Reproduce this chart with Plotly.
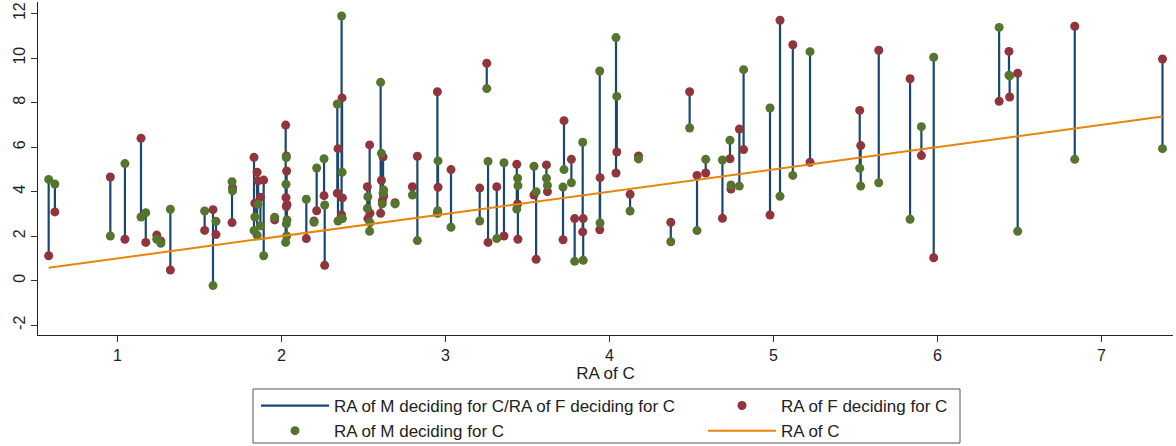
import plotly.graph_objects as go

# RA of C (x), RA of F deciding for C, RA of M deciding for C
ra_c = [0.581, 0.619, 0.957, 1.046, 1.144, 1.173, 1.240, 1.265, 1.323, 1.532,
        1.583, 1.601, 1.699, 1.702, 1.833, 1.838, 1.852, 1.858, 1.872, 1.892,
        1.959, 2.026, 2.030, 2.032, 2.028, 2.034, 2.030, 2.152, 2.199, 2.215,
        2.260, 2.264, 2.341, 2.345, 2.367, 2.370, 2.372, 2.524, 2.527, 2.538,
        2.540, 2.605, 2.610, 2.615, 2.620, 2.624, 2.693, 2.799, 2.829, 2.951,
        2.955, 2.953, 3.034, 3.209, 3.252, 3.260, 3.313, 3.357, 3.435, 3.440,
        3.442, 3.540, 3.553, 3.616, 3.622, 3.717, 3.723, 3.768, 3.788, 3.837,
        3.840, 3.941, 3.943, 4.040, 4.045, 4.126, 4.177, 4.374, 4.489, 4.534,
        4.587, 4.689, 4.735, 4.741, 4.792, 4.818, 4.979, 5.040, 5.118, 5.223,
        5.526, 5.532, 5.642, 5.833, 5.902, 5.977, 6.376, 6.436, 6.440, 6.489,
        6.837, 7.372]
ra_f = [1.12, 3.09, 4.66, 1.86, 6.40, 1.72, 2.05, 1.78, 0.48, 2.26,
        3.19, 2.07, 2.61, 4.18, 5.54, 3.48, 4.87, 4.49, 3.75, 4.52,
        2.73, 6.99, 5.60, 4.93, 3.73, 3.43, 3.33, 1.89, 2.68, 3.14,
        3.82, 0.69, 3.93, 5.93, 2.95, 8.21, 3.72, 4.22, 2.79, 6.10,
        3.03, 3.03, 4.51, 3.58, 5.56, 3.80, 3.50, 4.22, 5.59, 8.49,
        4.20, 3.05, 4.99, 4.16, 9.77, 1.72, 4.22, 2.01, 5.23, 3.45,
        1.86, 3.85, 0.96, 5.20, 4.00, 1.84, 7.19, 5.45, 2.79, 2.19,
        2.79, 2.29, 4.63, 4.84, 5.78, 3.88, 5.60, 2.62, 8.49, 4.73,
        4.84, 2.80, 5.48, 4.12, 6.81, 5.89, 2.95, 11.70, 10.60, 5.32,
        7.65, 6.07, 10.35, 9.07, 5.62, 1.03, 8.06, 10.30, 8.25, 9.32,
        11.43, 9.96]
ra_m = [4.55, 4.34, 2.01, 5.26, 2.86, 3.05, 1.86, 1.68, 3.21, 3.13,
        -0.22, 2.67, 4.45, 4.04, 2.25, 2.86, 2.04, 3.43, 2.46, 1.12,
        2.85, 1.72, 5.53, 2.01, 4.33, 2.73, 2.55, 3.66, 2.62, 5.06,
        5.48, 3.40, 7.94, 2.68, 11.89, 4.87, 2.79, 3.25, 3.77, 2.22,
        2.61, 8.91, 5.72, 3.45, 3.93, 4.07, 3.45, 3.85, 1.80, 3.03,
        5.38, 3.14, 2.40, 2.68, 8.63, 5.36, 1.89, 5.30, 3.22, 4.60,
        4.27, 5.14, 4.00, 4.60, 4.28, 4.21, 4.99, 4.40, 0.87, 6.22,
        0.92, 9.42, 2.59, 10.92, 8.28, 3.13, 5.47, 1.75, 6.86, 2.25,
        5.45, 5.42, 6.31, 4.30, 4.25, 9.48, 7.76, 3.79, 4.73, 10.29,
        5.05, 4.25, 4.40, 2.76, 6.92, 10.04, 11.38, 9.23, 9.20, 2.22,
        5.45, 5.93]

x_ticks = [1, 2, 3, 4, 5, 6, 7]
y_ticks = [-2, 0, 2, 4, 6, 8, 10, 12]
y_tick_text = ["-2", "0", "2", "4", "6", "8", "10", "12"]

NAVY = "#1a476f"
RED = "#90353b"
GREEN = "#55752f"
ORANGE = "#e8850c"
FONT = "Liberation Sans, Arial, sans-serif"

spike_x, spike_y = [], []
for c, f, m in zip(ra_c, ra_f, ra_m):
    spike_x += [c, c, None]
    spike_y += [m, f, None]

order = sorted(range(len(ra_c)), key=lambda i: ra_c[i])
line_x = [ra_c[i] for i in order]

fig = go.Figure()
fig.add_trace(go.Scatter(x=spike_x, y=spike_y, mode="lines",
                         line=dict(color=NAVY, width=2.2),
                         name="RA of M deciding for C/RA of F deciding for C",
                         legend="legend"))
fig.add_trace(go.Scatter(x=ra_c, y=ra_f, mode="markers",
                         marker=dict(color=RED, size=9, line=dict(width=0)),
                         name="RA of F deciding for C", legend="legend2"))
fig.add_trace(go.Scatter(x=ra_c, y=ra_m, mode="markers",
                         marker=dict(color=GREEN, size=9, line=dict(width=0)),
                         name="RA of M deciding for C", legend="legend"))
fig.add_trace(go.Scatter(x=line_x, y=line_x, mode="lines",
                         line=dict(color=ORANGE, width=2),
                         name="RA of C", legend="legend2"))

W, H = 1176, 446
ml, mr, mt, mb = 38, 3, 2, 111
pw, ph = W - ml - mr, H - mt - mb


def px_x(p):
    return (p - ml) / pw


def px_y(p):
    return (H - mb - p) / ph


legend_common = dict(orientation="v", yanchor="top", xanchor="left",
                     xref="container", yref="container",
                     font=dict(family=FONT, size=17, color="#222"),
                     bgcolor="rgba(0,0,0,0)", borderwidth=0,
                     itemwidth=68, itemsizing="trace", tracegroupgap=0)

fig.update_layout(
    width=W, height=H,
    margin=dict(l=ml, r=mr, t=mt, b=mb, autoexpand=False),
    paper_bgcolor="white", plot_bgcolor="white",
    font=dict(family=FONT, size=16, color="#222"),
    xaxis=dict(range=[0.516, 7.436], tickvals=x_ticks, ticks="outside",
               ticklen=6, tickcolor="#333", showline=True, linecolor="#222",
               linewidth=1, showgrid=False, zeroline=False,
               tickfont=dict(size=16), automargin=False,
               title=dict(text="RA of C", font=dict(size=17), standoff=0)),
    yaxis=dict(range=[-2.44, 12.52], tickvals=y_ticks, ticktext=y_tick_text,
               ticks="outside", ticklen=6, tickcolor="#333", showline=True,
               linecolor="#222", linewidth=1, showgrid=False, zeroline=False,
               tickangle=-90, tickfont=dict(size=16), automargin=False),
    legend=dict(x=256 / W, y=1 - 388 / H, **legend_common),
    legend2=dict(x=703 / W, y=1 - 388 / H, **legend_common),
    shapes=[dict(type="rect", xref="paper", yref="paper",
                 x0=px_x(253), x1=px_x(960), y0=px_y(389), y1=px_y(443),
                 line=dict(color="#555", width=1), fillcolor="rgba(0,0,0,0)")],
)

fig.write_html("out.html")
